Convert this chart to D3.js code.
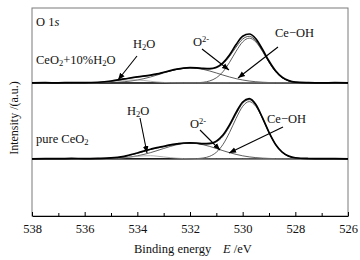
<!DOCTYPE html>
<html>
<head>
<meta charset="utf-8">
<script src="https://cdn.jsdelivr.net/npm/d3@7"></script>
<style>
  body { margin: 0; background: #fff; }
  text { font-family: "Liberation Serif", "Times New Roman", serif; fill: #111; }
</style>
</head>
<body>
<div id="chart"></div>
<script>
// binding energy grid (eV)
const energy = [538, 537.5, 537, 536.5, 536, 535.5, 535, 534.5, 534, 533.5, 533.25, 533, 532.75, 532.5,
  532.25, 532, 531.75, 531.5, 531.25, 531, 530.75, 530.5, 530.25, 530, 529.75, 529.5, 529.25, 529,
  528.75, 528.5, 528.25, 528, 527.5, 527, 526.5, 526];

// CeO2+10%H2O : measured + fitted components (a.u.)
const topExp = [0, 0.1, 0, 0.15, 0.1, 0.3, 0.9, 1.9, 2.9, 3.7, 4.3, 5.1, 5.9, 6.6, 7.1, 7.3, 7.2, 7.0,
  6.9, 7.5, 9.6, 13.4, 18.4, 22.4, 23.5, 21.2, 16.2, 10.5, 5.8, 2.7, 1.1, 0.4, 0.1, 0, 0.1, 0];
const topMain = [0, 0, 0, 0, 0, 0, 0, 0, 0, 0, 0, 0, 0, 0, 0, 0, 0.09, 0.3, 0.95, 2.45, 5.35, 9.85,
  15.2, 19.7, 21.5, 19.7, 15.2, 9.85, 5.35, 2.45, 0.95, 0.3, 0, 0, 0, 0];
const topBroad = [0, 0, 0, 0, 0.01, 0.05, 0.17, 0.55, 1.38, 2.84, 3.77, 4.77, 5.71, 6.5, 7.0, 7.2, 7.0,
  6.5, 5.71, 4.77, 3.77, 2.84, 2.03, 1.38, 0.89, 0.55, 0.32, 0.17, 0.09, 0.05, 0.02, 0.01, 0, 0, 0, 0];
const topWater = [0, 0, 0, 0, 0.01, 0.14, 0.61, 1.32, 1.42, 0.76, 0.43, 0.2, 0.08, 0.03, 0, 0, 0, 0,
  0, 0, 0, 0, 0, 0, 0, 0, 0, 0, 0, 0, 0, 0, 0, 0, 0, 0];

// pure CeO2
const botExp = [0, 0.1, 0.05, 0.2, 0.1, 0.2, 0.4, 1.2, 2.8, 4.6, 5.4, 6.0, 6.7, 7.2, 7.6, 7.7, 7.6, 7.3,
  7.4, 8.5, 11.4, 16.3, 22.3, 27.3, 28.9, 26.1, 19.8, 12.7, 6.9, 3.2, 1.3, 0.5, 0.15, 0.05, 0.1, 0];
const botMain = [0, 0, 0, 0, 0, 0, 0, 0, 0, 0, 0, 0, 0, 0, 0, 0, 0.11, 0.39, 1.21, 3.14, 6.85, 12.6,
  19.4, 25.2, 27.5, 25.2, 19.4, 12.6, 6.85, 3.14, 1.21, 0.39, 0, 0, 0, 0];
const botBroad = [0, 0, 0, 0, 0.01, 0.05, 0.18, 0.57, 1.43, 2.96, 3.93, 4.95, 5.95, 6.77, 7.3, 7.5, 7.3,
  6.77, 5.95, 4.95, 3.93, 2.96, 2.12, 1.43, 0.92, 0.57, 0.33, 0.18, 0.1, 0.05, 0.02, 0.01, 0, 0, 0, 0];
const botWater = [0, 0, 0, 0, 0, 0.01, 0.1, 0.49, 1.2, 1.49, 1.26, 0.91, 0.55, 0.28, 0.12, 0.04, 0, 0,
  0, 0, 0, 0, 0, 0, 0, 0, 0, 0, 0, 0, 0, 0, 0, 0, 0, 0];

const majorTicks = [538, 536, 534, 532, 530, 528, 526];
const minorTicks = [537, 535, 533, 531, 529, 527];

const topOffset = 64;
const botOffset = 27.5;

let width = 360, height = 260;
let padL = 32, padR = 348, padT = 8, padB = 216;
let fs = "12.5px";

let svg = d3.select("#chart").append("svg")
  .attr("width", width)
  .attr("height", height);

let x = d3.scaleLinear().domain([538, 526]).range([padL, padR]);
let y = d3.scaleLinear().domain([0, 100]).range([padB, padT]);

// frame
svg.append("rect")
  .attr("x", padL).attr("y", padT)
  .attr("width", padR - padL).attr("height", padB - padT)
  .attr("fill", "none").attr("stroke", "#7a7a7a").attr("stroke-width", 1);

function drawSpectrum(offset, exp, comps, waterIdx) {
  let line = d3.line()
    .x((d, i) => x(energy[i]))
    .y(d => y(d + offset))
    .curve(d3.curveMonotoneX);

  // baseline
  svg.append("line")
    .attr("x1", padL).attr("x2", padR)
    .attr("y1", y(offset)).attr("y2", y(offset))
    .attr("stroke", "#000").attr("stroke-width", 1.5);

  comps.forEach((c, k) => {
    svg.append("path").datum(c)
      .attr("d", line)
      .attr("fill", "none")
      .attr("stroke", k == waterIdx ? "#9a9a9a" : "#333")
      .attr("stroke-width", 0.8);
  });

  let fit = energy.map((e, i) => d3.sum(comps, c => c[i]));
  svg.append("path").datum(fit)
    .attr("d", line)
    .attr("fill", "none").attr("stroke", "#222").attr("stroke-width", 0.8);

  svg.append("path").datum(exp)
    .attr("d", line)
    .attr("fill", "none").attr("stroke", "#000").attr("stroke-width", 1.7);
}

drawSpectrum(topOffset, topExp, [topMain, topBroad, topWater], 2);
drawSpectrum(botOffset, botExp, [botMain, botBroad, botWater], 2);

// x axis
let xAxis = d3.axisBottom(x).tickValues(majorTicks).tickSizeInner(-4).tickSizeOuter(0).tickPadding(8);
let gx = svg.append("g")
  .attr("transform", `translate(0,${padB})`)
  .call(xAxis);
gx.select(".domain").attr("stroke", "#000");
gx.selectAll("text").style("font-size", fs).style("font-family", "Liberation Serif");

svg.append("g")
  .attr("transform", `translate(0,${padB})`)
  .call(d3.axisBottom(x).tickValues(minorTicks).tickSizeInner(-3).tickSizeOuter(0).tickFormat(""))
  .select(".domain").remove();

// axis titles
let xt = svg.append("text").attr("x", 134).attr("y", 253).style("font-size", fs);
xt.append("tspan").text("Binding energy");
xt.append("tspan").attr("x", 223).style("font-style", "italic").text("E");
xt.append("tspan").text(" /eV");

svg.append("text")
  .attr("transform", "translate(18,118) rotate(-90)")
  .attr("text-anchor", "middle")
  .style("font-size", "12px")
  .text("Intensity /(a.u.)");

// annotations
function sub(t, parts) {
  parts.forEach(p => {
    let s = t.append("tspan").text(p[0]);
    if (p[1] == "sub") s.attr("dy", 2).style("font-size", "8.5px");
    if (p[1] == "sup") s.attr("dy", -4.5).style("font-size", "8.5px");
    if (p[1] == "back") s.attr("dy", p[2]);
    if (p[1] == "it") s.style("font-style", "italic");
  });
}

sub(svg.append("text").attr("x", 36).attr("y", 26).style("font-size", fs),
  [["O 1"], ["s", "it"]]);
sub(svg.append("text").attr("x", 36).attr("y", 64).style("font-size", fs),
  [["CeO"], ["2", "sub"], ["+10%H", "back", -2], ["2", "sub"], ["O", "back", -2]]);
sub(svg.append("text").attr("x", 36).attr("y", 143).style("font-size", fs),
  [["pure CeO"], ["2", "sub"]]);

let labels = [
  { x: 133, y: 48, parts: [["H"], ["2", "sub"], ["O", "back", -2]] },
  { x: 193, y: 46, parts: [["O"], ["2-", "sup"]] },
  { x: 275, y: 37, parts: [["Ce\u2212OH"]] },
  { x: 127, y: 115, parts: [["H"], ["2", "sub"], ["O", "back", -2]] },
  { x: 190, y: 128, parts: [["O"], ["2-", "sup"]] },
  { x: 267, y: 123, parts: [["Ce\u2212OH"]] }
];
labels.forEach(l => sub(svg.append("text").attr("x", l.x).attr("y", l.y).style("font-size", fs), l.parts));

svg.append("defs").append("marker")
  .attr("id", "arr")
  .attr("viewBox", "0 0 10 10")
  .attr("refX", 10).attr("refY", 5)
  .attr("markerWidth", 7).attr("markerHeight", 7)
  .attr("markerUnits", "userSpaceOnUse")
  .attr("orient", "auto")
  .append("path").attr("d", "M0,1L10,5L0,9Z").attr("fill", "#000");

let arrows = [
  [137, 56, 118, 80],
  [202, 49, 229, 70],
  [278, 47, 238, 78],
  [140, 118, 147, 153],
  [200, 130, 220, 150],
  [283, 127, 229, 153]
];
svg.selectAll(".arrow").data(arrows).enter().append("line")
  .attr("class", "arrow")
  .attr("x1", d => d[0]).attr("y1", d => d[1])
  .attr("x2", d => d[2]).attr("y2", d => d[3])
  .attr("stroke", "#000").attr("stroke-width", 1.1)
  .attr("marker-end", "url(#arr)");
</script>
</body>
</html>
